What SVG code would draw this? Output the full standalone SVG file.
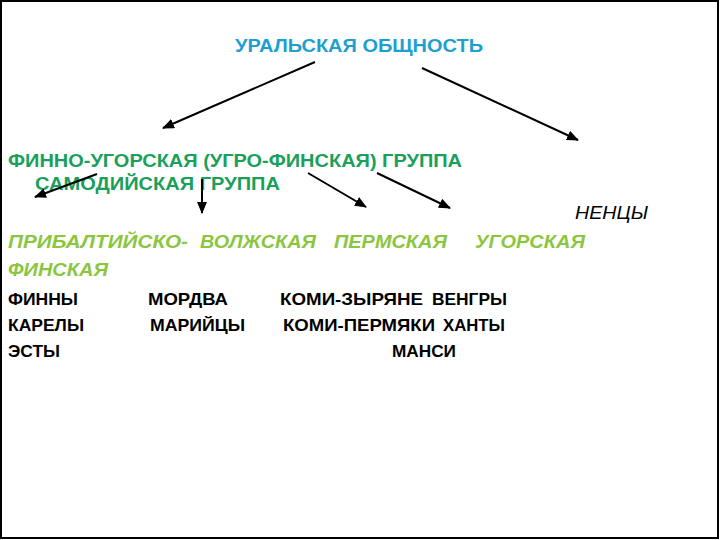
<svg xmlns="http://www.w3.org/2000/svg" width="720" height="540" viewBox="0 0 720 540">
<defs>
<marker id="ah" markerUnits="userSpaceOnUse" markerWidth="12" markerHeight="10" refX="11" refY="5" orient="auto">
<path d="M0,0 L12,5 L0,10 Z" fill="#000"/>
</marker>
<style>
text{font-family:"Liberation Sans",Arial,sans-serif;font-size:16px}
.title{fill:#1d9fcf;font-weight:bold;font-size:18px}
.grp{fill:#1aa05a;font-weight:bold;font-size:18px}
.sub{fill:#8cc63f;font-weight:bold;font-style:italic;font-size:18px}
.ppl{fill:#000;font-weight:bold;font-size:17px}
.nen{fill:#000;font-style:italic;font-size:18px}
.c line{stroke:#000;stroke-width:2;marker-end:url(#ah)}
</style>
</defs>
<rect x="0" y="0" width="720" height="540" fill="#fff"/>
<rect x="1" y="1" width="717" height="537" fill="none" stroke="#000" stroke-width="2"/>
<g id="n-uralic"><text class="title" x="235" y="52" textLength="248" lengthAdjust="spacingAndGlyphs">УРАЛЬСКАЯ ОБЩНОСТЬ</text></g>
<g id="n-finno"><text class="grp" x="8" y="167" textLength="454" lengthAdjust="spacingAndGlyphs">ФИННО-УГОРСКАЯ (УГРО-ФИНСКАЯ) ГРУППА</text></g>
<g id="n-samod"><text class="grp" x="35" y="190" textLength="245" lengthAdjust="spacingAndGlyphs">САМОДИЙСКАЯ ГРУППА</text></g>
<g id="n-nenets"><text class="nen" x="575" y="219" textLength="73" lengthAdjust="spacingAndGlyphs">НЕНЦЫ</text></g>
<g id="n-baltic"><text class="sub" x="8" y="248" textLength="180" lengthAdjust="spacingAndGlyphs">ПРИБАЛТИЙСКО-</text><text class="sub" x="8" y="276" textLength="100" lengthAdjust="spacingAndGlyphs">ФИНСКАЯ</text></g>
<g id="n-volga"><text class="sub" x="200" y="248" textLength="116" lengthAdjust="spacingAndGlyphs">ВОЛЖСКАЯ</text></g>
<g id="n-perm"><text class="sub" x="334" y="248" textLength="113" lengthAdjust="spacingAndGlyphs">ПЕРМСКАЯ</text></g>
<g id="n-ugric"><text class="sub" x="475" y="248" textLength="110" lengthAdjust="spacingAndGlyphs">УГОРСКАЯ</text></g>
<g id="n-baltic-peoples"><text class="ppl" x="8" y="305" textLength="70" lengthAdjust="spacingAndGlyphs">ФИННЫ</text><text class="ppl" x="8" y="331" textLength="76" lengthAdjust="spacingAndGlyphs">КАРЕЛЫ</text><text class="ppl" x="8" y="357" textLength="52" lengthAdjust="spacingAndGlyphs">ЭСТЫ</text></g>
<g id="n-volga-peoples"><text class="ppl" x="148" y="305" textLength="80" lengthAdjust="spacingAndGlyphs">МОРДВА</text><text class="ppl" x="150" y="331" textLength="95" lengthAdjust="spacingAndGlyphs">МАРИЙЦЫ</text></g>
<g id="n-perm-peoples"><text class="ppl" x="280" y="305" textLength="143" lengthAdjust="spacingAndGlyphs">КОМИ-ЗЫРЯНЕ</text><text class="ppl" x="283" y="331" textLength="152" lengthAdjust="spacingAndGlyphs">КОМИ-ПЕРМЯКИ</text></g>
<g id="n-ugric-peoples"><text class="ppl" x="432" y="305" textLength="75" lengthAdjust="spacingAndGlyphs">ВЕНГРЫ</text><text class="ppl" x="443" y="331" textLength="62" lengthAdjust="spacingAndGlyphs">ХАНТЫ</text><text class="ppl" x="392" y="357" textLength="64" lengthAdjust="spacingAndGlyphs">МАНСИ</text></g>
<g id="connectors" class="c">
<line x1="315" y1="62" x2="163" y2="128"/>
<line x1="422" y1="68" x2="578" y2="140"/>
<line x1="97" y1="174" x2="35" y2="197"/>
<line x1="202" y1="179" x2="202" y2="213"/>
<line x1="308" y1="173" x2="366" y2="207"/>
<line x1="377" y1="173" x2="450" y2="208"/>
</g>
</svg>
